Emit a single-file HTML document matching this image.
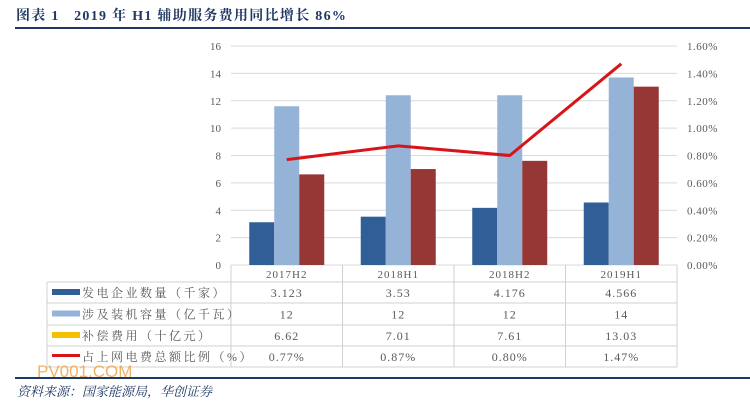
<!DOCTYPE html>
<html><head><meta charset="utf-8"><style>
body{margin:0;background:#fff;width:750px;height:403px;overflow:hidden;position:relative;font-family:"Liberation Serif","Noto Serif CJK SC",serif}
.t{position:absolute;white-space:nowrap}
</style></head><body>
<div class="t" style="left:16px;top:5px;font-size:14px;font-weight:bold;color:#1f3864;letter-spacing:1.3px">图表 1&nbsp;&nbsp;&nbsp;2019 年 H1 辅助服务费用同比增长 86%</div>
<div style="position:absolute;left:15px;top:27px;width:735px;height:2px;background:#1f3864"></div>
<svg id="c" width="750" height="403" style="position:absolute;left:0;top:0"></svg>
<div style="position:absolute;left:15px;top:377px;width:735px;height:2px;background:#1f3864"></div>
<div class="t" style="left:37px;top:362px;font-family:'Liberation Sans',sans-serif;font-size:17px;color:#f0a040;opacity:.8">PV001.COM</div>
<div class="t" style="left:17px;top:381px;font-size:13px;font-style:italic;color:#1f3864">资料来源：国家能源局，华创证券</div>
<script>
const categories=["2017H2","2018H1","2018H2","2019H1"];
const companies=[3.123,3.53,4.176,4.566];
const capacity=[11.6,12.4,12.4,13.7];
const compensation=[6.62,7.01,7.61,13.03];
const ratio=[0.77,0.87,0.80,1.47];
const capacityLabels=["12","12","12","14"];
const ratioLabels=["0.77%","0.87%","0.80%","1.47%"];
const leftTicks=[0,2,4,6,8,10,12,14,16];
const rightTicks=["0.00%","0.20%","0.40%","0.60%","0.80%","1.00%","1.20%","1.40%","1.60%"];
const seriesNames=["发电企业数量（千家）","涉及装机容量（亿千瓦）","补偿费用（十亿元）","占上网电费总额比例（%）"];
const svg=document.getElementById('c');const NS="http://www.w3.org/2000/svg";
const X0=231,X1=677,Y0=265,Y16=46;
const cw=(X1-X0)/categories.length;
const y=v=>Y0-(v/16)*(Y0-Y16);
const yr=v=>y(v*10);
const cx=i=>X0+cw*(i+0.5);
function mk(t,a,txt){const e=document.createElementNS(NS,t);for(const k in a)e.setAttribute(k,a[k]);if(txt!=null)e.textContent=txt;svg.appendChild(e);return e;}
leftTicks.forEach((v,i)=>{
 const g=mk('line',{x1:X0,x2:X1,y1:y(v),y2:y(v),stroke:'#d9d9d9','stroke-width':1});
 
 const l=mk('text',{x:221,y:y(v)+4,'text-anchor':'end','font-size':11,fill:'#595959'},v);
 
 const r=mk('text',{x:687,y:y(v)+4,'font-size':11,fill:'#595959','letter-spacing':0.5},rightTicks[i]);
 
});
const bw=25,cols=['#2f5f96','#95b3d7','#953735'];
[companies,capacity,compensation].forEach((s,k)=>{
 s.forEach((v,i)=>{
  const b=mk('rect',{x:cx(i)-37.5+k*bw,y:y(v),width:bw,height:Y0-y(v),fill:cols[k]});
  
  
 });
});
const pts=ratio.map((v,i)=>cx(i)+','+yr(v)).join(' ');
const ln=mk('polyline',{points:pts,fill:'none',stroke:'#d7141a','stroke-width':3,'stroke-linejoin':'round'});

const rows=[265,282,303,325,346,367];
const TL=47;
rows.slice(1).forEach(r=>{mk('line',{x1:TL,x2:X1,y1:r,y2:r,stroke:'#d0d0d0'});});
mk('line',{x1:TL,x2:TL,y1:282,y2:367,stroke:'#d0d0d0'});
for(let i=0;i<=categories.length;i++)mk('line',{x1:X0+cw*i,x2:X0+cw*i,y1:265,y2:367,stroke:'#d0d0d0'});
categories.forEach((c,i)=>{const t=mk('text',{x:cx(i),y:278,'text-anchor':'middle','font-size':11,fill:'#595959','letter-spacing':1},c);});
const vals=[companies.map(String),capacityLabels,compensation.map(v=>v.toFixed(2)),ratioLabels];
const keyCols=['#2f5f96','#95b3d7','#f5c000','#d7141a'];
vals.forEach((row,r)=>{
 const ym=(rows[r+1]+rows[r+2])/2;
 const k=mk('rect',{x:52,y:r==3?ym-2.5:ym-3.5,width:28,height:r==3?3:6,fill:keyCols[r]});
 
 const n=mk('text',{x:82,y:ym+4.5,'font-size':12,fill:'#595959','letter-spacing':2.5,'font-family':'"Liberation Serif","Noto Serif CJK SC",serif'},seriesNames[r]);
 
 row.forEach((v,i)=>{const t=mk('text',{x:cx(i),y:ym+4.5,'text-anchor':'middle','font-size':12,fill:'#595959','letter-spacing':1},v);});
});
</script>
</body></html>
